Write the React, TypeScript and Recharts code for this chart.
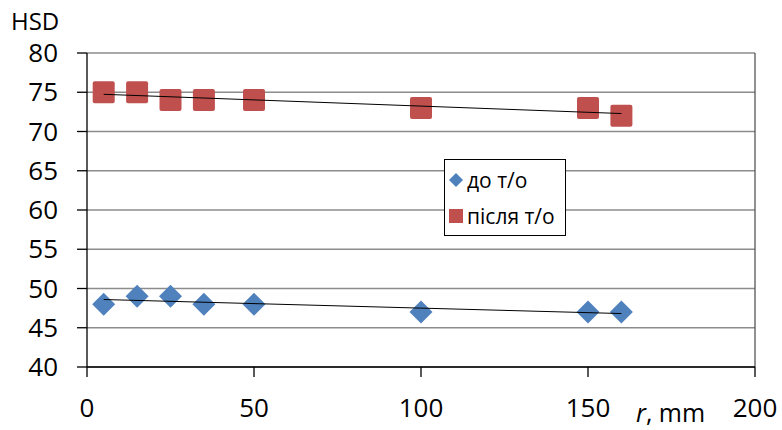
import React from "react";
import {
  ScatterChart,
  Scatter,
  XAxis,
  YAxis,
  CartesianGrid,
  ReferenceLine,
  Legend,
} from "recharts";

const radii = [5, 15, 25, 35, 50, 100, 150, 160];
const hsdBefore = [48, 49, 49, 48, 48, 47, 47, 47];
const hsdAfter = [75, 75, 74, 74, 74, 73, 73, 72];
const xTicks = [0, 50, 100, 150, 200];
const yTicks = [40, 45, 50, 55, 60, 65, 70, 75, 80];
const seriesNames = ["до т/о", "після т/о"];

const BLUE = "#4F81BD";
const RED = "#C0504D";
const FONT = "'Open Sans', 'Liberation Sans', sans-serif";

const before = radii.map((x, i) => ({ x, y: hsdBefore[i] }));
const after = radii.map((x, i) => ({ x, y: hsdAfter[i] }));

function trend(xs: number[], ys: number[]) {
  const n = xs.length;
  const mx = xs.reduce((a, b) => a + b, 0) / n;
  const my = ys.reduce((a, b) => a + b, 0) / n;
  let sxy = 0;
  let sxx = 0;
  xs.forEach((x, i) => {
    sxy += (x - mx) * (ys[i] - my);
    sxx += (x - mx) * (x - mx);
  });
  const k = sxy / sxx;
  const b = my - k * mx;
  const x0 = Math.min(...xs);
  const x1 = Math.max(...xs);
  return [
    { x: x0, y: k * x0 + b },
    { x: x1, y: k * x1 + b },
  ];
}

const trendBefore = trend(radii, hsdBefore);
const trendAfter = trend(radii, hsdAfter);

const Diamond = (props: any) => {
  const { cx, cy } = props;
  const h = 11.5;
  return (
    <polygon
      points={`${cx},${cy - h} ${cx + h},${cy} ${cx},${cy + h} ${cx - h},${cy}`}
      fill={BLUE}
    />
  );
};

const Square = (props: any) => {
  const { cx, cy } = props;
  const h = 11;
  return <rect x={cx - h} y={cy - h} width={2 * h} height={2 * h} rx={2} fill={RED} />;
};

const NoShape = () => <g />;

const LegendBox = () => (
  <div
    style={{
      border: "1px solid #000",
      background: "#fff",
      width: 120,
      height: 75,
      boxSizing: "content-box",
      fontFamily: FONT,
      fontSize: 21,
      color: "#000",
    }}
  >
    <div style={{ display: "flex", alignItems: "center", height: 22, marginTop: 9, marginLeft: 4 }}>
      <svg width={14} height={14} style={{ marginRight: 4 }}>
        <polygon points="7,0 14,7 7,14 0,7" fill={BLUE} />
      </svg>
      <span>{seriesNames[0]}</span>
    </div>
    <div style={{ display: "flex", alignItems: "center", height: 22, marginTop: 14, marginLeft: 4 }}>
      <svg width={14} height={14} style={{ marginRight: 4 }}>
        <rect x={0} y={0} width={14} height={14} fill={RED} />
      </svg>
      <span>{seriesNames[1]}</span>
    </div>
  </div>
);

export default function App() {
  return (
    <div style={{ position: "absolute", left: 0, top: 0, background: "#fff" }}>
      <ScatterChart
        width={782}
        height={430}
        margin={{ top: 53, right: 27, bottom: 13, left: 0 }}
      >
        <CartesianGrid
          horizontal
          vertical={false}
          stroke="#8c8c8c"
          strokeWidth={1.3}
          horizontalValues={yTicks}
        />
        <XAxis
          type="number"
          dataKey="x"
          domain={[0, 200]}
          ticks={xTicks}
          interval={0}
          height={50}
          tickSize={10}
          tickMargin={22}
          axisLine={{ stroke: "#000", strokeWidth: 1.3 }}
          tickLine={{ stroke: "#000", strokeWidth: 1.3 }}
          tick={{ fill: "#000", fontSize: 26, fontFamily: FONT }}
          label={{
            content: () => (
              <text x={636} y={422} fontFamily={FONT} fontSize={25} fill="#000">
                <tspan fontStyle="italic">r</tspan>
                <tspan>, mm</tspan>
              </text>
            ),
          }}
        />
        <YAxis
          type="number"
          dataKey="y"
          domain={[40, 80]}
          ticks={yTicks}
          interval={0}
          width={87}
          tickSize={10}
          tickMargin={19}
          axisLine={{ stroke: "#000", strokeWidth: 1.3 }}
          tickLine={{ stroke: "#000", strokeWidth: 1.3 }}
          tick={{ fill: "#000", fontSize: 26, fontFamily: FONT }}
          label={{
            content: () => (
              <text x={11} y={30} fontFamily={FONT} fontSize={24} fill="#000">
                HSD
              </text>
            ),
          }}
        />
        <ReferenceLine x={200} stroke="#555" strokeWidth={1.3} />
        <Legend
          layout="vertical"
          verticalAlign="middle"
          align="center"
          wrapperStyle={{ position: "absolute", left: 444, top: 159, width: 122, height: 77 }}
          content={() => <LegendBox />}
        />
        <Scatter
          name={seriesNames[0]}
          data={before}
          shape={<Diamond />}
          isAnimationActive={false}
        />
        <Scatter
          name={seriesNames[1]}
          data={after}
          shape={<Square />}
          isAnimationActive={false}
        />
        <Scatter
          data={trendBefore}
          line={{ stroke: "#000", strokeWidth: 1 }}
          shape={<NoShape />}
          legendType="none"
          isAnimationActive={false}
        />
        <Scatter
          data={trendAfter}
          line={{ stroke: "#000", strokeWidth: 1 }}
          shape={<NoShape />}
          legendType="none"
          isAnimationActive={false}
        />
      </ScatterChart>
    </div>
  );
}
